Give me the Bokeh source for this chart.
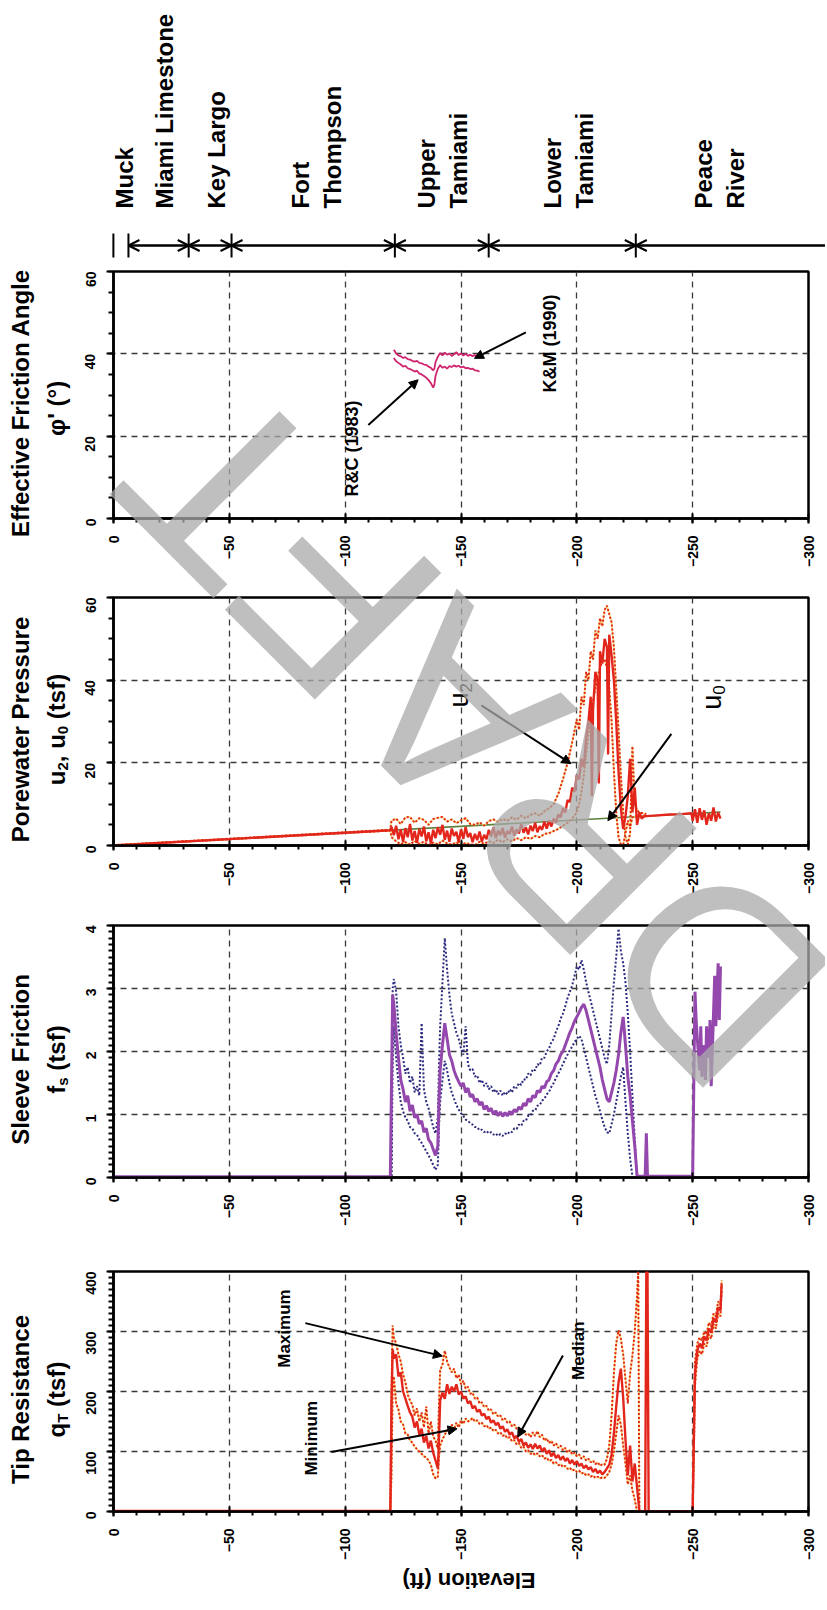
import math
from bokeh.plotting import figure
from bokeh.layouts import column
from bokeh.models import Range1d, SingleIntervalTicker, Label, Arrow, NormalHead, OpenHead, Spacer
from bokeh.core.properties import value
from bokeh.embed import file_html
from bokeh.resources import INLINE

# ---------------------------------------------------------------- data
FORMATION_NAMES = ["Muck", "Miami Limestone", "Key Largo", "Fort\nThompson",
                   "Upper\nTamiami", "Lower\nTamiami", "Peace\nRiver"]
FORMATION_LABEL_ELEV = [-1.5, -18.5, -41.0, -84.0, -138.5, -193.0, -258.0]
FORMATION_BOUNDS = [3.5, -3.0, -29.0, -47.5, -118.0, -158.5, -222.0, -304.0]

# Effective friction angle (deg)
PHI_RC = [(-121, 39.0), (-122, 38.2), (-123, 37.8), (-124, 37.4), (-125, 36.9), (-126, 37.1),
          (-127, 36.5), (-128, 36.3), (-129, 36.0), (-130, 35.7), (-131, 35.9), (-132, 35.2),
          (-133, 35.0), (-134, 34.6), (-135, 34.2), (-136, 33.6), (-137, 32.9), (-138, 31.8),
          (-138.5, 32.5), (-139, 34.6), (-140, 36.4), (-141, 37.3), (-142, 36.6), (-143, 36.9),
          (-144, 36.4), (-145, 37.0), (-146, 36.8), (-147, 37.2), (-148, 36.9), (-149, 37.1),
          (-150, 36.7), (-151, 36.9), (-152, 36.5), (-153, 36.6), (-154, 36.3), (-155, 36.4),
          (-156, 36.0), (-157, 35.9), (-158, 35.7)]
PHI_KM = [(-121, 41.0), (-122, 40.1), (-123, 39.6), (-124, 39.4), (-125, 39.0), (-126, 39.2),
          (-127, 38.7), (-128, 38.6), (-129, 38.3), (-130, 38.1), (-131, 38.3), (-132, 37.8),
          (-133, 37.7), (-134, 37.4), (-135, 37.3), (-136, 36.9), (-137, 36.6), (-138, 36.0),
          (-138.5, 36.4), (-139, 38.0), (-140, 39.3), (-141, 40.2), (-142, 39.6), (-143, 40.3),
          (-144, 39.8), (-145, 40.1), (-146, 39.5), (-147, 39.9), (-148, 40.4), (-149, 39.7),
          (-150, 40.1), (-151, 39.6), (-152, 40.0), (-153, 39.5), (-154, 39.8), (-155, 39.4),
          (-156, 39.7), (-157, 39.5), (-158, 39.6)]

# Porewater pressure (tsf)
U0_HYDRO = [(0, 0.0), (-262, 8.1)]
U2_MEDIAN = [(0, 0.0), (-119.5, 3.7), (-120, 4.5), (-121, 2.5), (-122, 4.8), (-123, 1.5), (-124, 3.9),
             (-125, 0.8), (-126, 4.2), (-127, 2.0), (-128, 5.2), (-129, 1.2), (-130, 3.5), (-131, 0.6),
             (-132, 4.0), (-133, 2.2), (-134, 4.6), (-135, 1.0), (-136, 3.2), (-137, 0.5), (-138, 3.8),
             (-139, 1.8), (-140, 4.4), (-141, 2.6), (-142, 5.0), (-143, 1.4), (-144, 3.6), (-145, 0.9),
             (-146, 4.1), (-147, 2.3), (-148, 3.3), (-149, 0.7), (-150, 3.9), (-151, 1.6), (-152, 4.5),
             (-153, 2.0), (-154, 3.0), (-155, 0.8), (-156, 2.8), (-157, 1.3), (-158, 3.4), (-159, 0.9),
             (-160, 2.6), (-161, 1.5), (-162, 3.8), (-163, 2.2), (-164, 4.4), (-165, 1.8), (-166, 3.6),
             (-167, 2.5), (-168, 4.2), (-169, 1.9), (-170, 3.5), (-171, 2.8), (-172, 4.6), (-173, 2.4),
             (-174, 3.9), (-175, 2.9), (-176, 5.2), (-177, 3.1), (-178, 4.4), (-179, 2.7), (-180, 4.8),
             (-181, 3.5), (-182, 5.5), (-183, 3.2), (-184, 4.7), (-185, 3.8), (-186, 5.8), (-187, 4.1),
             (-188, 6.0), (-189, 4.6), (-190, 6.5), (-191, 5.5), (-192, 7.5), (-193, 6.8), (-194, 9.0),
             (-195, 8.0), (-196, 11.0), (-197, 10.5), (-198, 14.0), (-199, 13.0), (-200, 17.0),
             (-201, 16.0), (-202, 21.0), (-203, 19.0), (-204, 26.0), (-205, 30.0), (-206, 36.0),
             (-206.5, 12.0), (-207, 33.0), (-208, 42.0), (-209, 40.0), (-209.5, 15.0), (-210, 47.0),
             (-211, 44.0), (-212, 50.0), (-213, 48.0), (-213.5, 22.0), (-214, 51.0), (-215, 46.0),
             (-216, 40.0), (-217, 30.0), (-218, 18.0), (-219, 9.0), (-220, 4.0), (-221, 7.0),
             (-222, 12.0), (-223, 21.0), (-224, 8.0), (-225, 14.0), (-226, 5.0), (-227, 8.0),
             (-228, 6.5), (-229, 7.2), (-230, 7.1), (-235, 7.3), (-240, 7.5), (-245, 7.6),
             (-249.5, 7.8), (-250, 6.0), (-251, 8.8), (-252, 5.5), (-253, 9.0), (-254, 6.2),
             (-255, 8.5), (-256, 5.0), (-257, 7.8), (-258, 6.0), (-259, 9.2), (-260, 5.8),
             (-261, 8.0), (-262, 6.5)]
U2_MAXIMUM = [(0, 0.1), (-119.5, 3.8), (-120, 6.0), (-122, 6.5), (-124, 5.2), (-126, 6.8), (-128, 6.9),
              (-130, 5.5), (-132, 6.6), (-134, 6.2), (-136, 5.0), (-138, 6.4), (-140, 6.7), (-142, 6.9),
              (-144, 5.8), (-146, 6.3), (-148, 5.4), (-150, 6.1), (-152, 6.6), (-154, 5.2), (-156, 5.0),
              (-158, 5.6), (-160, 4.8), (-162, 5.9), (-164, 6.3), (-166, 5.7), (-168, 6.4), (-170, 6.0),
              (-172, 6.8), (-174, 6.2), (-176, 7.2), (-178, 6.6), (-180, 7.4), (-182, 7.8), (-184, 7.2),
              (-186, 8.3), (-188, 9.0), (-190, 10.0), (-192, 12.5), (-194, 16.0), (-196, 20.0),
              (-198, 25.0), (-200, 30.5), (-201, 28.0), (-202, 36.0), (-203, 34.0), (-204, 42.0),
              (-205, 40.0), (-206, 47.0), (-207, 45.0), (-208, 52.0), (-209, 50.0), (-210, 55.0),
              (-211, 53.0), (-212, 57.0), (-213, 58.0), (-214, 56.0), (-215, 54.0), (-216, 48.0),
              (-217, 38.0), (-218, 28.0), (-219, 17.0), (-220, 8.0), (-221, 2.0), (-222, 0.3),
              (-223, 3.0), (-224, 24.0), (-225, 10.0), (-226, 8.5), (-227, 8.0), (-230, 7.6)]
U2_MINIMUM = [(0, 0.0), (-119.5, 3.6), (-120, 2.0), (-122, 1.0), (-124, 0.3), (-126, 0.8), (-128, 0.2),
              (-130, 1.1), (-132, 0.4), (-134, 0.9), (-136, 0.1), (-138, 0.7), (-140, 0.3), (-142, 1.2),
              (-144, 0.5), (-146, 0.2), (-148, 0.8), (-150, 0.1), (-152, 0.6), (-154, 0.3), (-156, 0.1),
              (-158, 0.9), (-160, 0.4), (-162, 1.0), (-164, 0.6), (-166, 1.4), (-168, 0.8), (-170, 1.5),
              (-172, 1.0), (-174, 1.8), (-176, 1.3), (-178, 2.0), (-180, 1.6), (-182, 2.3), (-184, 2.0),
              (-186, 2.8), (-188, 3.0), (-190, 3.5), (-192, 4.0), (-194, 4.8), (-196, 5.5), (-198, 6.5),
              (-200, 8.0), (-201, 10.0), (-202, 13.0), (-203, 17.0), (-204, 22.0), (-205, 27.0),
              (-206, 31.0), (-207, 35.0), (-208, 38.0), (-209, 41.0), (-210, 43.0), (-211, 44.5),
              (-212, 45.0), (-213, 43.0), (-214, 38.0), (-215, 30.0), (-216, 18.0), (-217, 8.0),
              (-218, 2.0), (-219, 0.3), (-220, 0.2), (-221, 3.0), (-222, 6.0), (-223, 4.5),
              (-224, 6.8), (-225, 7.0), (-230, 7.0)]

# Sleeve friction (tsf)
FS_MEDIAN = [(0, 0.01), (-119.5, 0.01), (-120, 1.5), (-120.5, 2.9), (-121, 2.75), (-122, 2.3), (-123, 1.9),
             (-124, 1.55), (-125, 1.4), (-126, 1.2), (-127, 1.3), (-128, 1.05), (-129, 1.15), (-130, 0.95),
             (-131, 1.0), (-132, 0.85), (-133, 0.9), (-134, 0.72), (-135, 0.78), (-136, 0.6), (-137, 0.55),
             (-138, 0.45), (-139, 0.35), (-140, 0.5), (-140.5, 1.2), (-141, 1.7), (-142, 2.1), (-143, 2.45),
             (-144, 2.2), (-145, 1.95), (-146, 1.85), (-147, 1.7), (-148, 1.6), (-149, 1.52), (-150, 1.45),
             (-151, 1.5), (-152, 1.35), (-153, 1.42), (-154, 1.28), (-155, 1.32), (-156, 1.2), (-157, 1.25),
             (-158, 1.15), (-159, 1.2), (-160, 1.08), (-161, 1.14), (-162, 1.05), (-163, 1.1), (-164, 1.0),
             (-165, 1.06), (-166, 0.98), (-167, 1.04), (-168, 0.97), (-169, 1.03), (-170, 0.98),
             (-171, 1.05), (-172, 1.0), (-173, 1.08), (-174, 1.04), (-175, 1.12), (-176, 1.08),
             (-177, 1.18), (-178, 1.14), (-179, 1.25), (-180, 1.2), (-181, 1.3), (-182, 1.27),
             (-183, 1.38), (-184, 1.35), (-185, 1.45), (-186, 1.42), (-187, 1.52), (-188, 1.55),
             (-189, 1.65), (-190, 1.7), (-191, 1.8), (-192, 1.85), (-193, 1.95), (-194, 2.0),
             (-195, 2.1), (-196, 2.2), (-197, 2.3), (-198, 2.38), (-199, 2.48), (-200, 2.55),
             (-201, 2.62), (-202, 2.7), (-203, 2.75), (-204, 2.65), (-205, 2.5), (-206, 2.35),
             (-207, 2.2), (-208, 2.05), (-209, 1.9), (-210, 1.75), (-211, 1.55), (-212, 1.4),
             (-213, 1.25), (-214, 1.2), (-215, 1.35), (-216, 1.5), (-217, 1.7), (-218, 1.95),
             (-219, 2.3), (-220, 2.55), (-221, 2.1), (-222, 1.6), (-223, 1.3), (-224, 0.9),
             (-225, 0.5), (-226, 0.02), (-229.5, 0.02), (-230, 0.7), (-230.5, 0.02), (-250, 0.02),
             (-250.5, 1.5), (-251, 2.95), (-251.5, 2.5), (-252, 2.2), (-253, 1.7), (-253.5, 2.4),
             (-254, 1.6), (-255, 2.1), (-255.5, 1.55), (-256, 2.4), (-257, 1.9), (-257.5, 2.5),
             (-258, 1.45), (-259, 2.6), (-259.5, 3.2), (-260, 2.4), (-261, 3.4), (-261.5, 2.5),
             (-262, 3.35)]
FS_MAXIMUM = [(-120, 0.02), (-120.5, 3.0), (-121, 3.15), (-122, 2.95), (-123, 2.4), (-124, 2.1),
              (-125, 1.9), (-126, 1.65), (-127, 1.75), (-128, 1.5), (-129, 1.6), (-130, 1.35),
              (-131, 1.45), (-132, 1.3), (-133, 2.45), (-134, 1.4), (-135, 1.2), (-136, 1.1),
              (-137, 0.95), (-138, 0.8), (-139, 0.7), (-140, 0.95), (-140.5, 1.8), (-141, 2.4),
              (-142, 3.1), (-143, 3.8), (-144, 3.3), (-145, 2.9), (-146, 2.6), (-147, 2.45),
              (-148, 2.3), (-149, 2.2), (-150, 2.05), (-151, 1.95), (-152, 2.4), (-153, 1.8),
              (-154, 1.7), (-155, 1.72), (-156, 1.6), (-157, 1.62), (-158, 1.5), (-159, 1.55),
              (-160, 1.45), (-161, 1.5), (-162, 1.4), (-163, 1.45), (-164, 1.35), (-165, 1.4),
              (-166, 1.32), (-167, 1.38), (-168, 1.3), (-169, 1.36), (-170, 1.32), (-171, 1.4),
              (-172, 1.35), (-173, 1.45), (-174, 1.42), (-175, 1.5), (-176, 1.47), (-177, 1.56),
              (-178, 1.55), (-179, 1.65), (-180, 1.62), (-181, 1.72), (-182, 1.7), (-183, 1.8),
              (-184, 1.78), (-185, 1.9), (-186, 1.9), (-187, 2.0), (-188, 2.05), (-189, 2.15),
              (-190, 2.2), (-191, 2.32), (-192, 2.4), (-193, 2.52), (-194, 2.6), (-195, 2.72),
              (-196, 2.85), (-197, 2.95), (-198, 3.05), (-199, 3.2), (-200, 3.35), (-201, 3.3),
              (-202, 3.45), (-203, 3.3), (-204, 3.1), (-205, 2.95), (-206, 2.8), (-207, 2.65),
              (-208, 2.5), (-209, 2.35), (-210, 2.2), (-211, 2.05), (-212, 1.9), (-213, 1.8),
              (-214, 2.1), (-215, 2.6), (-216, 3.1), (-217, 3.5), (-218, 3.95), (-219, 3.6),
              (-220, 3.4), (-221, 3.1), (-222, 2.6), (-223, 2.0), (-224, 1.3), (-225, 0.6),
              (-226, 0.02)]
FS_MINIMUM = [(-120, 0.02), (-120.5, 1.8), (-121, 2.4), (-122, 1.9), (-123, 1.5), (-124, 1.2),
              (-125, 1.05), (-126, 0.95), (-127, 0.9), (-128, 0.8), (-129, 0.78), (-130, 0.7),
              (-131, 0.68), (-132, 0.6), (-133, 0.55), (-134, 0.48), (-135, 0.42), (-136, 0.35),
              (-137, 0.28), (-138, 0.2), (-139, 0.12), (-140, 0.2), (-140.5, 0.8), (-141, 1.2),
              (-142, 1.55), (-143, 1.85), (-144, 1.7), (-145, 1.5), (-146, 1.35), (-147, 1.25),
              (-148, 1.15), (-149, 1.08), (-150, 1.02), (-151, 0.98), (-152, 0.92), (-153, 0.9),
              (-154, 0.86), (-155, 0.84), (-156, 0.8), (-157, 0.8), (-158, 0.75), (-159, 0.76),
              (-160, 0.72), (-161, 0.74), (-162, 0.7), (-163, 0.72), (-164, 0.68), (-165, 0.7),
              (-166, 0.66), (-167, 0.69), (-168, 0.66), (-169, 0.7), (-170, 0.68), (-171, 0.73),
              (-172, 0.72), (-173, 0.78), (-174, 0.77), (-175, 0.84), (-176, 0.82), (-177, 0.9),
              (-178, 0.9), (-179, 0.98), (-180, 0.98), (-181, 1.06), (-182, 1.06), (-183, 1.14),
              (-184, 1.15), (-185, 1.22), (-186, 1.25), (-187, 1.32), (-188, 1.36), (-189, 1.44),
              (-190, 1.5), (-191, 1.58), (-192, 1.65), (-193, 1.72), (-194, 1.8), (-195, 1.88),
              (-196, 1.95), (-197, 2.02), (-198, 2.08), (-199, 2.15), (-200, 2.2), (-201, 2.25),
              (-202, 2.2), (-203, 2.05), (-204, 1.9), (-205, 1.75), (-206, 1.6), (-207, 1.45),
              (-208, 1.3), (-209, 1.18), (-210, 1.05), (-211, 0.92), (-212, 0.8), (-213, 0.72),
              (-214, 0.7), (-215, 0.85), (-216, 1.0), (-217, 1.2), (-218, 1.4), (-219, 1.6),
              (-220, 1.75), (-221, 1.2), (-222, 0.7), (-223, 0.3), (-224, 0.02)]

# Tip resistance (tsf)
QT_MEDIAN = [(0, 1), (-119.5, 1), (-120, 180), (-120.5, 270), (-121, 255), (-122, 262), (-123, 225),
             (-124, 232), (-125, 200), (-126, 188), (-127, 176), (-128, 165), (-129, 158), (-130, 140),
             (-131, 150), (-132, 128), (-133, 138), (-134, 115), (-135, 126), (-136, 105), (-137, 118),
             (-138, 98), (-139, 85), (-140, 72), (-140.5, 120), (-141, 185), (-142, 198), (-143, 188),
             (-144, 212), (-145, 196), (-146, 208), (-147, 200), (-148, 212), (-149, 195), (-150, 200),
             (-151, 188), (-152, 192), (-153, 180), (-154, 184), (-155, 172), (-156, 176), (-157, 166),
             (-158, 170), (-159, 160), (-160, 163), (-161, 154), (-162, 158), (-163, 148), (-164, 152),
             (-165, 144), (-166, 148), (-167, 138), (-168, 142), (-169, 133), (-170, 137), (-171, 128),
             (-172, 132), (-173, 122), (-174, 126), (-175, 116), (-176, 121), (-177, 110), (-178, 115),
             (-179, 106), (-180, 112), (-181, 104), (-182, 113), (-183, 105), (-184, 110), (-185, 100),
             (-186, 106), (-187, 96), (-188, 102), (-189, 92), (-190, 98), (-191, 89), (-192, 94),
             (-193, 86), (-194, 92), (-195, 84), (-196, 89), (-197, 80), (-198, 86), (-199, 78),
             (-200, 84), (-201, 76), (-202, 80), (-203, 72), (-204, 77), (-205, 70), (-206, 74),
             (-207, 66), (-208, 71), (-209, 64), (-210, 68), (-211, 62), (-212, 66), (-213, 72),
             (-214, 78), (-215, 95), (-216, 130), (-217, 175), (-218, 215), (-219, 238), (-220, 190),
             (-221, 120), (-222, 60), (-223, 110), (-224, 50), (-225, 80), (-226, 40), (-227, 0),
             (-229.5, 0), (-230, 400), (-230.5, 400), (-231, 0), (-250, 0), (-250.5, 120),
             (-251, 230), (-252, 268), (-253, 280), (-254, 272), (-255, 292), (-256, 285),
             (-257, 305), (-258, 298), (-259, 322), (-260, 315), (-261, 340), (-262, 335),
             (-262.5, 378)]
QT_MAXIMUM = [(-119.5, 2), (-120, 200), (-120.5, 310), (-121, 290), (-122, 280), (-123, 262), (-124, 250),
              (-125, 228), (-126, 215), (-127, 195), (-128, 185), (-129, 178), (-130, 160), (-131, 172),
              (-132, 150), (-133, 165), (-134, 140), (-135, 175), (-136, 130), (-137, 150), (-138, 125),
              (-139, 118), (-140, 105), (-140.5, 180), (-141, 235), (-142, 245), (-143, 268), (-144, 250),
              (-145, 240), (-146, 232), (-147, 238), (-148, 222), (-149, 228), (-150, 212), (-151, 218),
              (-152, 205), (-153, 208), (-154, 196), (-155, 198), (-156, 188), (-157, 190), (-158, 180),
              (-159, 182), (-160, 174), (-161, 176), (-162, 168), (-163, 170), (-164, 162), (-165, 165),
              (-166, 158), (-167, 160), (-168, 152), (-169, 155), (-170, 148), (-171, 150), (-172, 142),
              (-173, 145), (-174, 138), (-175, 140), (-176, 132), (-177, 135), (-178, 128), (-179, 130),
              (-180, 124), (-181, 132), (-182, 126), (-183, 134), (-184, 124), (-185, 128), (-186, 118),
              (-187, 122), (-188, 114), (-189, 118), (-190, 110), (-191, 114), (-192, 106), (-193, 110),
              (-194, 102), (-195, 106), (-196, 98), (-197, 102), (-198, 95), (-199, 98), (-200, 92),
              (-201, 95), (-202, 88), (-203, 92), (-204, 85), (-205, 88), (-206, 82), (-207, 85),
              (-208, 79), (-209, 82), (-210, 76), (-211, 79), (-212, 78), (-213, 88), (-214, 110),
              (-215, 160), (-216, 230), (-217, 280), (-218, 302), (-219, 288), (-220, 262), (-221, 220),
              (-222, 180), (-223, 230), (-224, 260), (-225, 300), (-226, 360), (-226.5, 400), (-227, 0),
              (-250, 0), (-250.5, 150), (-251, 250), (-252, 280), (-253, 290), (-254, 285), (-255, 300),
              (-256, 295), (-257, 315), (-258, 308), (-259, 330), (-260, 325), (-261, 350), (-262, 345),
              (-262.5, 385)]
QT_MINIMUM = [(-119.5, 0), (-120, 60), (-120.5, 200), (-121, 225), (-122, 180), (-123, 170), (-124, 150),
              (-125, 145), (-126, 130), (-127, 128), (-128, 118), (-129, 115), (-130, 108), (-131, 104),
              (-132, 100), (-133, 96), (-134, 92), (-135, 90), (-136, 85), (-137, 78), (-138, 62),
              (-139, 55), (-140, 58), (-140.5, 90), (-141, 110), (-142, 120), (-143, 128), (-144, 135),
              (-145, 140), (-146, 145), (-147, 136), (-148, 148), (-149, 140), (-150, 152), (-151, 146),
              (-152, 155), (-153, 150), (-154, 152), (-155, 156), (-156, 150), (-157, 152), (-158, 146),
              (-159, 148), (-160, 142), (-161, 144), (-162, 138), (-163, 140), (-164, 134), (-165, 136),
              (-166, 130), (-167, 132), (-168, 126), (-169, 128), (-170, 122), (-171, 124), (-172, 117),
              (-173, 119), (-174, 112), (-175, 114), (-176, 106), (-177, 108), (-178, 100), (-179, 102),
              (-180, 96), (-181, 98), (-182, 94), (-183, 97), (-184, 92), (-185, 94), (-186, 88),
              (-187, 90), (-188, 84), (-189, 86), (-190, 80), (-191, 82), (-192, 77), (-193, 79),
              (-194, 74), (-195, 76), (-196, 71), (-197, 73), (-198, 68), (-199, 70), (-200, 66),
              (-201, 68), (-202, 63), (-203, 65), (-204, 60), (-205, 62), (-206, 58), (-207, 60),
              (-208, 56), (-209, 58), (-210, 55), (-211, 57), (-212, 56), (-213, 60), (-214, 66),
              (-215, 78), (-216, 100), (-217, 130), (-218, 160), (-219, 145), (-220, 110), (-221, 80),
              (-222, 45), (-223, 60), (-224, 35), (-225, 20), (-226, 0), (-250, 0), (-250.5, 90),
              (-251, 210), (-252, 255), (-253, 268), (-254, 262), (-255, 280), (-256, 275), (-257, 295),
              (-258, 288), (-259, 312), (-260, 305), (-261, 330), (-262, 325), (-262.5, 368)]

# annotation anchors (elevation, value)
PHI_NOTES = [("R&C (1983)", -103.0, 17.0, (-110.0, 22.7), (-131.5, 33.7)),
             ("K&M (1990)", -188.5, 42.5, (-178.0, 45.2), (-155.8, 38.9))]
U_NOTES = [("u", "2", -149.0, 37.0, (-158.8, 33.9), (-197.5, 19.8)),
           ("u", "0", -258.5, 36.5, (-240.8, 27.0), (-213.4, 6.0))]
QT_NOTES = [("Maximum", -74.0, 305.0, (-82.8, 314.0), (-142.0, 259.0)),
            ("Minimum", -85.6, 122.0, (-94.0, 99.0), (-148.3, 138.0)),
            ("Median", -200.8, 268.0, (-194.0, 260.0), (-174.5, 124.0))]

PANEL_TITLES = ["Effective Friction Angle", "Porewater Pressure", "Sleeve Friction", "Tip Resistance"]
PANEL_UNITS = [[("\u03c6' (\u00b0)", 0)],
               [("u", 0), ("2", 1), (", u", 0), ("0", 1), (" (tsf)", 0)],
               [("f", 0), ("s", 1), (" (tsf)", 0)],
               [("q", 0), ("T", 1), (" (tsf)", 0)]]
X_TITLE = "Elevation (ft)"

# ---------------------------------------------------------------- layout / style
FONT = "Liberation Sans"
W = 817
FRAME_L = 113
FRAME_W = 695
PX_PER_FT = FRAME_W / 300.0
PANEL_FRAMES = [(279, 526), (605, 853), (933, 1185), (1279, 1519)]   # page y of frame top/bottom
FIG_BOUNDS = [260, 585, 912, 1245, 1602]
PAGE_H = 1594
RED = "#e3261c"
YELLOW = "#f3cf5a"
PURPLE = "#9448ad"
NAVY = "#2b2a7e"
MAGENTA = "#d0246e"
GREEN = "#5c7f3a"
WM_PAGE = (474, 733)


def elev_at(page_x):
    return -((page_x - 8 - FRAME_L) / PX_PER_FT)


def xy(pairs):
    return [a for a, _ in pairs], [b for _, b in pairs]


ARIAL_B = {'u': .611, '2': .556, ',': .278, ' ': .278, '0': .556, '(': .333, 't': .333,
           's': .556, 'f': .333, ')': .333, 'q': .611, 'T': .611}


def text_len(s, size):
    return sum(ARIAL_B.get(c, .6) for c in s) * size


def panel_fig(i, ymax, interval, minor):
    top, bot = PANEL_FRAMES[i]
    ftop, fbot = FIG_BOUNDS[i], FIG_BOUNDS[i + 1]
    p = figure(width=W, height=fbot - ftop, x_range=Range1d(0, -300), y_range=Range1d(0, ymax),
               min_border_left=FRAME_L, min_border_right=W - FRAME_L - FRAME_W,
               min_border_top=top - ftop, min_border_bottom=fbot - bot,
               output_backend="svg", toolbar_location=None, title=None)
    xt = SingleIntervalTicker(interval=50, num_minor_ticks=5)
    yt = SingleIntervalTicker(interval=interval, num_minor_ticks=minor)
    p.xaxis.ticker = xt
    p.yaxis.ticker = yt
    p.xgrid.ticker = xt
    p.ygrid.ticker = yt
    p.grid.grid_line_color = "#3a3a3a"
    p.grid.grid_line_dash = "6 5"
    p.grid.grid_line_width = 1.3
    p.outline_line_color = "black"
    p.outline_line_width = 2.5
    p.background_fill_color = "white"
    p.border_fill_color = "white"
    for ax in p.axis:
        ax.axis_line_width = 2.5
        ax.axis_line_color = "black"
        ax.major_tick_line_width = 2
        ax.minor_tick_line_width = 2
        ax.major_label_orientation = math.pi / 2
        ax.major_label_text_font = FONT
        ax.major_label_text_font_style = "bold"
        ax.major_label_text_font_size = "14px"
        ax.major_label_text_color = "black"
    p.xaxis.major_tick_in = 5
    p.xaxis.major_tick_out = 5
    p.xaxis.minor_tick_in = 0
    p.xaxis.minor_tick_out = 4
    p.xaxis.major_label_standoff = 12
    p.yaxis.major_tick_in = 0
    p.yaxis.major_tick_out = 7
    p.yaxis.minor_tick_in = 0
    p.yaxis.minor_tick_out = 5
    p.yaxis.major_label_standoff = 16
    return p


def note(p, text, x, y, size="14px", bold=True):
    p.add_layout(Label(x=x, y=y, text=text, angle=math.pi / 2, text_align="center",
                       text_baseline="middle", text_font=FONT,
                       text_font_style="bold" if bold else "normal",
                       text_font_size=size, text_color="black"))


def arrow(p, a, b):
    p.add_layout(Arrow(end=NormalHead(size=9, fill_color="black", line_color="black"),
                       x_start=a[0], y_start=a[1], x_end=b[0], y_end=b[1],
                       line_color="black", line_width=2))


def dotted(p, pairs, color, under=None):
    ex, vy = xy(pairs)
    if under:
        p.line(ex, vy, line_color=under, line_width=1.6, line_alpha=0.8)
    p.line(ex, vy, line_color=color, line_width=2, line_dash="2 2")


# ---------------------------------------------------------------- panel 1: friction angle
p1 = panel_fig(0, 60, 20, 4)
for series in (PHI_RC, PHI_KM):
    ex, vy = xy(series)
    p1.line(ex, vy, line_color=MAGENTA, line_width=1.8)
for t, x, y, a, b in PHI_NOTES:
    note(p1, t, x, y, "18px")
    arrow(p1, a, b)

# ---------------------------------------------------------------- panel 2: pore pressure
p2 = panel_fig(1, 60, 20, 4)
ex, vy = xy(U0_HYDRO)
p2.line(ex, vy, line_color=GREEN, line_width=1.6)
dotted(p2, U2_MAXIMUM, RED, YELLOW)
dotted(p2, U2_MINIMUM, RED, YELLOW)
ex, vy = xy(U2_MEDIAN)
p2.line(ex, vy, line_color=RED, line_width=2.4)
for main, sub, x, y, a, b in U_NOTES:
    p2.add_layout(Label(x=x, y=y, text=main, angle=math.pi / 2, text_align="right",
                        text_baseline="middle", text_font=FONT, text_font_size="27px",
                        text_color="black"))
    p2.add_layout(Label(x=x - 7 / PX_PER_FT, y=y, text=sub, angle=math.pi / 2, text_align="left",
                        text_baseline="middle", text_font=FONT, text_font_size="17px",
                        text_color="black"))
    arrow(p2, a, b)

# ---------------------------------------------------------------- panel 3: sleeve friction
p3 = panel_fig(2, 4, 1, 10)
dotted(p3, FS_MAXIMUM, NAVY)
dotted(p3, FS_MINIMUM, NAVY)
ex, vy = xy(FS_MEDIAN)
p3.line(ex, vy, line_color=PURPLE, line_width=3)

# ---------------------------------------------------------------- panel 4: tip resistance
p4 = panel_fig(3, 400, 100, 10)
dotted(p4, QT_MAXIMUM, RED, YELLOW)
dotted(p4, QT_MINIMUM, RED, YELLOW)
ex, vy = xy(QT_MEDIAN)
p4.line(ex, vy, line_color=RED, line_width=2.4)
for t, x, y, a, b in QT_NOTES:
    note(p4, t, x, y, "17px")
    arrow(p4, a, b)

# ---------------------------------------------------------------- overlay: header, titles, watermark
ov = figure(width=W, height=PAGE_H, x_range=Range1d(elev_at(8), elev_at(8 + W)),
            y_range=Range1d(8 + PAGE_H, 8), min_border=0, x_axis_type=None, y_axis_type=None,
            output_backend="svg", toolbar_location=None, title=None,
            background_fill_color=None, border_fill_color=None, outline_line_color=None,
            styles={"position": "absolute", "top": "8px", "left": "8px", "z-index": "10"})
ov.xgrid.visible = False
ov.ygrid.visible = False

# formation header
tx, ty, tt = [], [], []
LINE_GAP = 32.0
for name, e in zip(FORMATION_NAMES, FORMATION_LABEL_ELEV):
    lines = name.split("\n")
    n = len(lines)
    for j, ln in enumerate(lines):
        off = (j - (n - 1) / 2.0) * LINE_GAP
        tx.append(e - off / PX_PER_FT)
        ty.append(208)
        tt.append(ln)
ov.text(x=tx, y=ty, text=tt, angle=math.pi / 2, text_align="left", text_baseline="middle",
        text_font=value(FONT), text_font_style="bold", text_font_size="24px", text_color="black")
ARROW_Y = 245
bx = FORMATION_BOUNDS[:-1]
ov.segment(x0=bx, y0=[ARROW_Y - 12] * len(bx), x1=bx, y1=[ARROW_Y + 12] * len(bx),
           line_color="black", line_width=2)
for k in range(1, len(FORMATION_BOUNDS) - 1):
    last = (k == len(FORMATION_BOUNDS) - 2)
    ov.add_layout(Arrow(start=OpenHead(size=11, line_width=2),
                        end=None if last else OpenHead(size=11, line_width=2),
                        x_start=FORMATION_BOUNDS[k], x_end=FORMATION_BOUNDS[k + 1],
                        y_start=ARROW_Y, y_end=ARROW_Y, line_width=2.5, line_color="black"))

# panel titles (two rotated lines each)
for i, (t1, units) in enumerate(zip(PANEL_TITLES, PANEL_UNITS)):
    top, bot = PANEL_FRAMES[i]
    mid = (top + bot) / 2.0
    ov.add_layout(Label(x=elev_at(20), y=mid, text=t1, angle=math.pi / 2,
                        text_align="center", text_baseline="middle", text_font=FONT,
                        text_font_style="bold", text_font_size="24px", text_color="black"))
    pieces = [(t, 15 if sub else 24, 6 if sub else 0) for t, sub in units]
    total = sum(text_len(t, s) for t, s, _ in pieces)
    pos = mid + total / 2.0
    for t, s, shift in pieces:
        lead = len(t) - len(t.lstrip(" "))
        pos -= text_len(" " * lead, s)
        body = t.lstrip(" ")
        ov.add_layout(Label(x=elev_at(56 + shift), y=pos, text=body, angle=math.pi / 2,
                            text_align="left", text_baseline="middle", text_font=FONT,
                            text_font_style="bold", text_font_size="%dpx" % s, text_color="black"))
        pos -= text_len(body, s)

ov.add_layout(Label(x=-150, y=1580, text=X_TITLE, angle=math.pi,
                    text_align="center", text_baseline="middle", text_font=FONT,
                    text_font_style="bold", text_font_size="22px", text_color="black"))

ov.add_layout(Label(x=elev_at(WM_PAGE[0]), y=WM_PAGE[1], text="DRAFT",
                    angle=math.radians(135), text_align="center", text_baseline="middle",
                    text_font=FONT, text_font_size="260px", text_color="#a9a9a9",
                    text_alpha=0.75))

layout = column(Spacer(width=W, height=FIG_BOUNDS[0] - 8), p1, p2, p3, p4, spacing=0)
open("out.html", "w").write(file_html([layout, ov], INLINE))
